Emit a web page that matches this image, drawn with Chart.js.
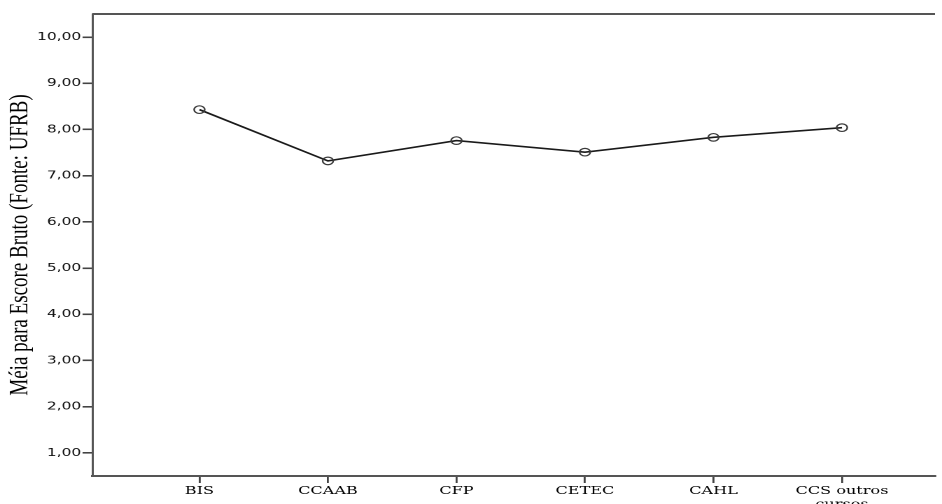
<!DOCTYPE html>
<html>
<head>
<meta charset="utf-8">
<script src="https://cdn.jsdelivr.net/npm/chart.js@4/dist/chart.umd.min.js"></script>
<style>
  html, body { margin: 0; padding: 0; background: #fff; overflow: hidden; }
  #wrap { width: 673px; height: 504px; transform: scaleX(1.39970); transform-origin: 0 0; }
  canvas { display: block; }
</style>
</head>
<body>
<div id="wrap"><canvas id="c" width="673" height="504"></canvas></div>
<script>
// ---- data ----
const categories = ["BIS", "CCAAB", "CFP", "CETEC", "CAHL", ["CCS outros", "cursos"]];
const meanScores = [8.43, 7.32, 7.76, 7.51, 7.83, 8.04];
const yTickValues = [1, 2, 3, 4, 5, 6, 7, 8, 9, 10];
const yAxisTitle = "Méia para Escore Bruto (Fonte: UFRB)";

const axisColor = '#555555';

const topBorder = {
  id: 'topBorder',
  afterDraw(chart) {
    const { ctx, chartArea } = chart;
    ctx.save();
    ctx.strokeStyle = axisColor;
    ctx.lineWidth = 2;
    ctx.beginPath();
    ctx.moveTo(chartArea.left, chartArea.top);
    ctx.lineTo(chartArea.right, chartArea.top);
    ctx.stroke();
    ctx.restore();
  }
};

new Chart(document.getElementById('c'), {
  type: 'line',
  data: {
    datasets: [{
      data: meanScores.map((v, i) => ({ x: i, y: v })),
      borderColor: '#1a1a1a',
      borderWidth: 1.6,
      pointRadius: 3.8,
      pointHoverRadius: 3.8,
      pointBorderColor: '#3a3a3a',
      pointBorderWidth: 1.2,
      pointBackgroundColor: 'rgba(0,0,0,0)',
      tension: 0,
      fill: false
    }]
  },
  options: {
    responsive: false,
    animation: false,
    devicePixelRatio: 2,
    layout: { padding: { top: 14, right: 0, left: 0, bottom: 0 } },
    plugins: { legend: { display: false }, tooltip: { enabled: false } },
    scales: {
      x: {
        type: 'linear',
        min: -0.833,
        max: 5.724,
        afterBuildTicks: s => { s.ticks = categories.map((c, i) => ({ value: i })); },
        afterFit: s => { s.height = 28; },
        grid: { display: true, drawOnChartArea: false, tickLength: 7, color: '#444', lineWidth: 1.4 },
        border: { display: true, color: axisColor, width: 2 },
        ticks: {
          callback: v => categories[v],
          font: { family: 'DejaVu Serif', size: 11.5 },
          color: '#000',
          padding: 1,
          maxRotation: 0,
          autoSkip: false
        }
      },
      y: {
        min: 0.5,
        max: 10.5,
        afterBuildTicks: s => { s.ticks = yTickValues.map(v => ({ value: v })); },
        afterFit: s => { s.width = 66; },
        grid: { display: true, drawOnChartArea: false, tickLength: 7, color: '#444', lineWidth: 1.6 },
        border: { display: true, color: axisColor, width: 1.5 },
        ticks: {
          callback: v => v.toFixed(2).replace('.', ','),
          font: { family: 'DejaVu Sans', size: 11 },
          color: '#111',
          padding: 1
        },
        title: {
          display: true,
          text: yAxisTitle,
          font: { family: 'Liberation Serif', size: 19 },
          color: '#000',
          padding: { top: 3, bottom: 0 }
        }
      }
    }
  },
  plugins: [topBorder]
});
</script>
</body>
</html>
